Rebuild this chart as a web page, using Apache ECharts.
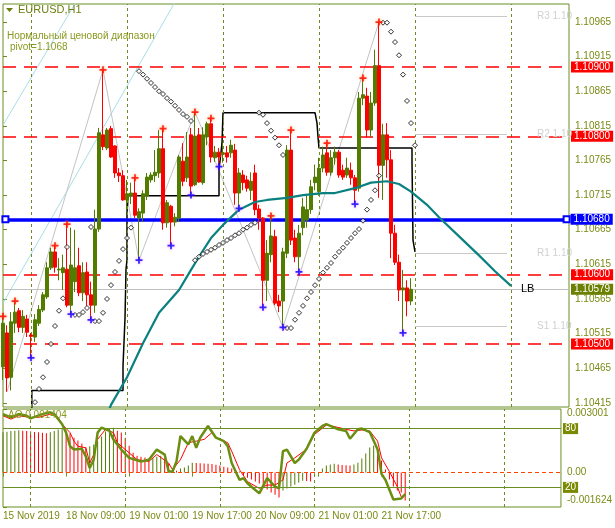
<!DOCTYPE html>
<html><head><meta charset="utf-8">
<script src="https://cdn.jsdelivr.net/npm/echarts@6/dist/echarts.min.js"></script>
<style>html,body{margin:0;padding:0;background:#fff}#c{width:615px;height:528px}</style>
</head><body><div id="c"></div>
<script>
// ---------- data ----------
const tickLabels = ['15 Nov 2019','18 Nov 09:00','19 Nov 01:00','19 Nov 17:00','20 Nov 09:00','21 Nov 01:00','21 Nov 17:00'];
const tickBars = [0,16,32,48,64,80,96];
const dayBreaks = [7,31,55,79,103,127];
const priceTicks = [1.10965,1.10915,1.10865,1.10815,1.10765,1.10715,1.10665,1.10615,1.10565,1.10515,1.10465,1.10415];

const opens = [1.10467,1.10516,1.10452,1.10530,1.10548,1.10524,1.10536,1.10513,1.10510,1.10530,
1.10549,1.10568,1.10610,1.10633,1.10607,1.10603,1.10608,1.10556,1.10590,1.10613,
1.10574,1.10604,1.10571,1.10556,1.10666,1.10802,1.10783,1.10811,1.10786,1.10747,
1.10743,1.10708,1.10714,1.10718,1.10682,1.10689,1.10714,1.10737,1.10743,1.10747,
1.10782,1.10675,1.10699,1.10676,1.10682,1.10764,1.10740,1.10802,1.10730,1.10802,
1.10733,1.10799,1.10818,1.10769,1.10777,1.10774,1.10776,1.10776,1.10780,1.10718,
1.10744,1.10737,1.10722,1.10747,1.10695,1.10682,1.10592,1.10629,1.10655,1.10562,
1.10562,1.10631,1.10780,1.10653,1.10626,1.10668,1.10679,1.10694,1.10733,1.10720,
1.10754,1.10776,1.10748,1.10769,1.10777,1.10751,1.10744,1.10751,1.10740,1.10725,
1.10855,1.10858,1.10809,1.10848,1.10902,1.10758,1.10802,1.10766,1.10660,1.10618,
1.10578,1.10581,1.10562];
const highs = [1.10540,1.10527,1.10546,1.10562,1.10552,1.10549,1.10542,1.10516,1.10543,1.10556,
1.10575,1.10618,1.10639,1.10642,1.10624,1.10629,1.10673,1.10668,1.10665,1.10639,
1.10618,1.10618,1.10590,1.10694,1.10812,1.10896,1.10812,1.10815,1.10787,1.10754,
1.10751,1.10737,1.10733,1.10740,1.10696,1.10722,1.10747,1.10748,1.10780,1.10809,
1.10811,1.10708,1.10701,1.10689,1.10773,1.10790,1.10806,1.10812,1.10835,1.10812,
1.10813,1.10821,1.10826,1.10786,1.10783,1.10790,1.10786,1.10795,1.10789,1.10754,
1.10751,1.10743,1.10748,1.10759,1.10701,1.10683,1.10650,1.10685,1.10665,1.10571,
1.10639,1.10787,1.10809,1.10665,1.10672,1.10711,1.10715,1.10737,1.10759,1.10769,
1.10785,1.10790,1.10780,1.10785,1.10780,1.10759,1.10769,1.10762,1.10744,1.10864,
1.10884,1.10870,1.10864,1.10925,1.10965,1.10818,1.10819,1.10780,1.10672,1.10629,
1.10607,1.10592,1.10595];
const lows = [1.10448,1.10431,1.10433,1.10516,1.10517,1.10516,1.10510,1.10480,1.10503,1.10526,
1.10546,1.10565,1.10607,1.10603,1.10592,1.10578,1.10553,1.10543,1.10575,1.10569,
1.10562,1.10555,1.10535,1.10545,1.10662,1.10780,1.10780,1.10769,1.10740,1.10734,
1.10707,1.10694,1.10702,1.10682,1.10621,1.10676,1.10708,1.10733,1.10734,1.10740,
1.10665,1.10668,1.10642,1.10670,1.10676,1.10728,1.10734,1.10715,1.10728,1.10733,
1.10730,1.10787,1.10762,1.10763,1.10756,1.10762,1.10762,1.10769,1.10701,1.10696,
1.10722,1.10720,1.10708,1.10686,1.10665,1.10553,1.10562,1.10618,1.10556,1.10546,
1.10524,1.10624,1.10643,1.10618,1.10604,1.10657,1.10668,1.10688,1.10722,1.10714,
1.10748,1.10743,1.10743,1.10759,1.10740,1.10737,1.10740,1.10730,1.10702,1.10720,
1.10845,1.10798,1.10799,1.10844,1.10711,1.10708,1.10740,1.10624,1.10614,1.10562,
1.10516,1.10540,1.10556];
const closes = [1.10530,1.10451,1.10532,1.10546,1.10524,1.10540,1.10517,1.10511,1.10535,1.10550,
1.10571,1.10610,1.10633,1.10611,1.10608,1.10610,1.10556,1.10614,1.10610,1.10574,
1.10603,1.10571,1.10556,1.10666,1.10805,1.10785,1.10809,1.10770,1.10747,1.10743,
1.10708,1.10717,1.10718,1.10686,1.10691,1.10717,1.10741,1.10744,1.10748,1.10782,
1.10675,1.10704,1.10676,1.10683,1.10770,1.10735,1.10770,1.10728,1.10800,1.10734,
1.10802,1.10818,1.10770,1.10777,1.10770,1.10776,1.10770,1.10787,1.10718,1.10747,
1.10733,1.10725,1.10735,1.10694,1.10682,1.10592,1.10631,1.10656,1.10559,1.10555,
1.10633,1.10780,1.10650,1.10626,1.10660,1.10698,1.10694,1.10727,1.10741,1.10754,
1.10773,1.10748,1.10769,1.10777,1.10744,1.10741,1.10754,1.10740,1.10722,1.10855,
1.10860,1.10809,1.10848,1.10902,1.10758,1.10802,1.10766,1.10660,1.10618,1.10578,
1.10581,1.10562,1.10579];

const fractalHighBars = [0,3,13,16,25,33,40,48,52,67,72,81,90,94];
const fractalLowBars = [7,17,22,34,42,47,54,59,65,70,74,88,100];

const zigzagBars = [1,25,34,48,70,94];
const zigzagPrices = [1.10431,1.10896,1.10621,1.10835,1.10524,1.10965];

const channelA = [[0,1.10816],[20,1.11011]];
const channelB = [[0,1.10559],[45,1.11014]];

const sarBars = [8,9,10,11,12,13,14,15,16,18,19,20,21,22,23,24,25,26,27,28,29,30,31,32,
34,35,36,37,38,39,40,41,42,43,44,45,46,47,48,49,50,51,52,53,54,55,56,57,58,59,60,61,62,63,
64,65,66,67,68,69,70,71,72,73,74,75,76,77,78,79,80,81,82,83,84,85,86,87,88,89,90,91,92,93,94,
95,96,97,98,99,100,101,102,103];
const sarValues = [1.10416,1.10435,1.10452,1.10474,1.10500,1.10526,1.10548,1.10566,1.10640,1.10542,1.10542,1.10546,1.10552,1.10669,1.10533,1.10533,1.10545,1.10565,1.10585,1.10604,1.10620,1.10637,1.10653,1.10668,
1.10894,1.10889,1.10883,1.10877,1.10871,1.10865,1.10861,1.10855,1.10850,1.10844,1.10838,1.10832,1.10828,1.10822,1.10621,1.10626,1.10630,1.10633,1.10636,1.10639,1.10643,1.10646,1.10650,1.10653,1.10657,1.10660,1.10665,1.10668,1.10672,1.10675,
1.10834,1.10831,1.10819,1.10808,1.10798,1.10787,1.10773,1.10523,1.10523,1.10535,1.10545,1.10555,1.10566,1.10575,1.10585,1.10594,1.10603,1.10610,1.10617,1.10626,1.10633,1.10639,1.10646,1.10653,1.10660,1.10666,1.10678,1.10694,1.10708,1.10722,1.10743,
1.10964,1.10964,1.10951,1.10936,1.10917,1.10889,1.10851,1.10819,1.10787];

const stepLine = [[7.2,1.10390],[7.2,1.10433],[30,1.10433],[30,1.10468],[30.5,1.10468],[30.5,1.10537],[30.75,1.10537],[30.75,1.10608],[31,1.10621],[31,1.10691],[31.25,1.10714],
[54,1.10714],[54,1.10751],[54.75,1.10790],[55,1.10834],[78,1.10834],[78.5,1.10819],[78.75,1.10799],[79,1.10783],[102.25,1.10783],[102.25,1.10763],[102.5,1.10650],[103,1.10650],[103,1.10633]];

const maLine = [[26,1.10397],[27,1.10412],[31,1.10452],[35,1.10501],[39,1.10545],[44,1.10578],[47,1.10607],[49,1.10626],[52,1.10653],[55,1.10672],[59,1.10694],[63,1.10705],[66,1.10708],[71,1.10711],[75,1.10715],[80,1.10718],[83,1.10718],[88,1.10725],[92,1.10733],[96,1.10735],[99,1.10731],[102,1.10720],[106,1.10701],[109,1.10683],[115,1.10650],[119,1.10628],[123,1.10605],[127,1.10584]];

const redLevels = [1.10900,1.10800,1.10600,1.10500];
const pivotLevel = 1.10680;
const lastPrice = 1.10579;
const pivotNames = ['R3','R2','R1','S1'];
const pivotValues = [1.10974,1.10803,1.10631,1.10526];
const pivotSpan = [103,126];

const aoValues = [0.00190,0.00193,0.00196,0.00198,0.00200,0.00198,0.00196,0.00194,0.00192,0.00190,
0.00188,0.00186,0.00190,0.00196,0.00203,0.00207,0.00198,0.00184,0.00165,0.00151,
0.00137,0.00120,0.00124,0.00132,0.00146,0.00170,0.00194,0.00208,0.00212,0.00198,
0.00189,0.00165,0.00127,0.00094,0.00080,0.00075,0.00071,0.00066,0.00068,0.00075,
0.00080,0.00066,0.00042,0.00019,0.00009,0.00019,0.00024,0.00033,0.00047,0.00045,
0.00044,0.00043,0.00042,0.00040,0.00037,0.00033,0.00028,0.00024,0.00019,0.00012,
0.00005,-0.00014,-0.00024,-0.00033,-0.00042,-0.00052,-0.00066,-0.00080,-0.00094,-0.00104,
-0.00118,-0.00085,-0.00075,-0.00066,-0.00057,-0.00047,-0.00038,-0.00040,-0.00042,-0.00005,
0.00003,0.00019,0.00033,0.00038,0.00042,0.00038,0.00036,0.00035,0.00033,0.00038,
0.00047,0.00066,0.00090,0.00118,0.00127,0.00104,0.00057,0.00014,-0.00033,-0.00066,
-0.00085,-0.00094,-0.00132];
const aoMax = 0.003001, aoMin = -0.001624;

const stochMain = [[0,94.8],[2,91.4],[4,94.8],[6,93.1],[7,90.4],[10,94.8],[12,96.6],[13,94.8],[15,84.5],[16,75.9],[17,62.0],[18,58.6],[20,59.4],[21,51.7],[22,39.7],[23,48.3],[24,75.9],[25,81.1],[27,77.6],[28,69.0],[30,58.6],[32,50.1],[35,46.5],[37,48.3],[39,58.6],[41,53.5],[42,36.2],[43,36.2],[44,46.5],[45,72.4],[47,63.8],[48,72.4],[49,60.4],[50,70.7],[52,82.7],[54,70.7],[56,67.2],[57,62.0],[58,44.9],[60,27.6],[61,29.4],[62,24.2],[64,17.3],[65,13.9],[67,29.4],[69,20.7],[70,19.0],[71,56.9],[72,58.6],[74,44.9],[75,48.3],[77,59.4],[79,75.9],[81,82.7],[82,84.5],[85,79.3],[87,77.6],[88,69.7],[90,79.3],[91,80.0],[93,76.5],[95,58.6],[96,33.8],[97,27.6],[99,7.7],[101,8.7],[102,13.1]];
const stochSignal = [[0,93.1],[2,89.7],[4,93.1],[7,91.4],[9,91.4],[12,94.8],[14,91.4],[15,84.5],[17,75.9],[18,67.2],[19,62.0],[21,60.4],[22,44.9],[23,53.5],[24,69.0],[26,79.3],[28,75.9],[29,65.6],[32,55.2],[34,48.3],[37,46.5],[39,53.5],[42,44.9],[43,38.0],[45,48.3],[47,65.6],[49,67.2],[51,69.0],[53,75.9],[54,70.7],[57,65.6],[58,56.9],[60,38.0],[62,25.9],[65,19.0],[67,22.4],[69,22.4],[71,27.6],[72,44.9],[74,50.1],[77,59.0],[79,74.1],[82,83.5],[84,82.1],[87,79.3],[89,77.6],[91,78.6],[93,77.6],[95,67.2],[96,50.1],[98,36.2],[100,20.7],[101,10.3],[102,12.1]];
const stochLevels = [80,20];

// ---------- styles ----------
const OLIVE = '#6b8e23', TXT = '#7a8a14', BULL = '#517c00', BEAR = '#ff0000';
const FONT = 'Liberation Sans';
const xMax = 141.5;

const candleData = opens.map((o,i)=>[i,o,closes[i],lows[i],highs[i]]);
const aoData = aoValues.map((v,i)=>({value:[i,v], itemStyle:{color:(i===0||v>=aoValues[i-1])?BULL:BEAR}}));
const plusPath = 'path://M3,0H5V3H8V5H5V8H3V5H0V3H3Z';
const hSeg = v => [{coord:[0,v]},{coord:[xMax,v]}];
const priceBox = bg => ({position:'end', distance:2, formatter:p=>Number(p.value).toFixed(5), color:'#fff', backgroundColor:bg, padding:[1,3,0,3], fontSize:10, fontFamily:FONT});

const chart = echarts.init(document.getElementById('c'), null, {renderer:'canvas'});
chart.setOption({
  animation:false,
  backgroundColor:'#ffffff',
  textStyle:{fontFamily:FONT},
  grid:[
    {left:3, top:4, width:566, height:403, show:true, borderColor:OLIVE, borderWidth:1, backgroundColor:'#fff'},
    {left:3, top:409, width:566, height:98, show:true, borderColor:OLIVE, borderWidth:1, backgroundColor:'#fff'}
  ],
  xAxis:[
    {type:'value', gridIndex:0, min:0, max:xMax, axisLine:{show:false}, axisTick:{show:false}, axisLabel:{show:false}, splitLine:{show:false}},
    {type:'value', gridIndex:1, min:0, max:xMax, axisLine:{show:false}, splitLine:{show:false},
      axisTick:{show:true, customValues:tickBars, length:4, lineStyle:{color:OLIVE}},
      axisLabel:{customValues:tickBars, align:'left', margin:4, color:TXT, fontSize:10, fontFamily:FONT,
        formatter:v=>{const k=tickBars.indexOf(Math.round(v)); return k>=0?tickLabels[k]:'';}}}
  ],
  yAxis:[
    {type:'value', gridIndex:0, position:'right', min:1.10409, max:1.10991, axisLine:{show:false}, splitLine:{show:false},
      axisTick:{show:true, customValues:priceTicks, length:4, lineStyle:{color:OLIVE}},
      axisLabel:{customValues:priceTicks, margin:6, color:TXT, fontSize:10, fontFamily:FONT, formatter:v=>v.toFixed(5)}},
    {type:'value', gridIndex:1, position:'right', min:aoMin, max:aoMax, axisLine:{show:false}, splitLine:{show:false},
      axisTick:{show:true, customValues:[aoMax,0,aoMin], length:4, lineStyle:{color:OLIVE}},
      axisLabel:{customValues:[aoMax,0,aoMin], margin:6, color:TXT, fontSize:10, fontFamily:FONT,
        formatter:v=>{
          if (Math.abs(v)<1e-9) return '0.00';
          return v>0 ? '{top|'+v.toFixed(6)+'}' : '{bot|'+v.toFixed(6)+'}';
        },
        rich:{top:{padding:[9,0,0,0], color:TXT, fontSize:10, fontFamily:FONT}, bot:{padding:[0,0,14,0], color:TXT, fontSize:10, fontFamily:FONT}}}},
    {type:'value', gridIndex:1, min:0, max:100, show:false}
  ],
  graphic:[
    {type:'polygon', shape:{points:[[6,8],[13,8],[9.5,12]]}, style:{fill:'#6b7f10'}, z:100},
    {type:'text', x:18, y:10, style:{text:'EURUSD,H1', fill:'#6b7f10', fontSize:11, fontFamily:FONT, verticalAlign:'middle'}, z:100},
    {type:'text', x:7, y:36, style:{text:'Нормальный ценовой диапазон', fill:'#8a9a20', fontSize:10, fontFamily:FONT, verticalAlign:'middle'}, z:100},
    {type:'text', x:10, y:47, style:{text:'pivot=1.1068', fill:'#8a9a20', fontSize:10, fontFamily:FONT, verticalAlign:'middle'}, z:100},
    {type:'text', x:8, y:415, style:{text:'AO 0.001404', fill:'#8a9a20', fontSize:10, fontFamily:FONT, verticalAlign:'middle'}, z:100}
  ],
  series:[
    {type:'line', xAxisIndex:0, yAxisIndex:0, data:[], z:1,
      markLine:{silent:true, symbol:'none', label:{show:false}, lineStyle:{color:OLIVE, type:[3,3], width:1},
        data:dayBreaks.map(b=>({xAxis:b}))}},
    {type:'line', xAxisIndex:1, yAxisIndex:1, data:[], z:1,
      markLine:{silent:true, symbol:'none', label:{show:false}, lineStyle:{color:OLIVE, type:[3,3], width:1},
        data:dayBreaks.map(b=>({xAxis:b}))}},
    // red levels
    {type:'line', xAxisIndex:0, yAxisIndex:0, data:[], z:2,
      markLine:{silent:true, symbol:'none', lineStyle:{color:'#ff0000', type:[13,8], width:1.5},
        label:priceBox('#ff0000'),
        data:redLevels.map(v=>[{coord:[0,v], value:v},{coord:[xMax,v]}])}},
    // last price line
    {type:'line', xAxisIndex:0, yAxisIndex:0, data:[], z:2,
      markLine:{silent:true, symbol:'none', lineStyle:{color:'#c0c0c0', type:'solid', width:1},
        label:priceBox('#6b8000'),
        data:[[{coord:[0,lastPrice], value:lastPrice},{coord:[xMax,lastPrice]}]]}},
    // pivot short lines
    {type:'line', xAxisIndex:0, yAxisIndex:0, data:[], z:2,
      markLine:{silent:true, symbol:'none', lineStyle:{color:'#c8c8c8', type:'solid', width:1},
        label:{position:'end', distance:30, color:'#d0d0d0', fontSize:10, fontFamily:FONT, padding:[12,0,0,0], formatter:p=>p.name+' 1.10'},
        data:pivotNames.map((n,k)=>[{name:n, coord:[pivotSpan[0],pivotValues[k]]},{coord:[pivotSpan[1],pivotValues[k]]}])}},
    // channel lines
    {type:'line', xAxisIndex:0, yAxisIndex:0, data:channelA, symbol:'none', lineStyle:{color:'#a8dde6', width:1}, z:3},
    {type:'line', xAxisIndex:0, yAxisIndex:0, data:channelB, symbol:'none', lineStyle:{color:'#a8dde6', width:1}, z:3},
    // zigzag
    {type:'line', xAxisIndex:0, yAxisIndex:0, data:zigzagBars.map((b,k)=>[b,zigzagPrices[k]]), symbol:'none', lineStyle:{color:'#c4c4c4', width:1}, z:3},
    // step line
    {type:'line', xAxisIndex:0, yAxisIndex:0, data:stepLine, symbol:'none', lineStyle:{color:'#000', width:1.5}, z:4},
    // candles
    {type:'candlestick', xAxisIndex:0, yAxisIndex:0, data:candleData, encode:{x:0, y:[1,2,3,4]}, barWidth:3, z:5,
      itemStyle:{color:BULL, color0:BEAR, borderColor:BULL, borderColor0:BEAR, borderWidth:1}},
    // MA
    {type:'line', xAxisIndex:0, yAxisIndex:0, data:maLine, symbol:'none', lineStyle:{color:'#0a8080', width:2.2}, z:6,
      endLabel:{show:true, formatter:'LB', color:'#000', fontSize:11, fontFamily:FONT, offset:[2,3]}},
    // pivot blue line
    {type:'line', xAxisIndex:0, yAxisIndex:0, data:[], z:7,
      markLine:{silent:true, symbol:['emptyRect','emptyRect'], symbolSize:6, lineStyle:{color:'#0000ff', type:'solid', width:3.5},
        label:{position:'end', distance:4, formatter:()=>pivotLevel.toFixed(5), color:'#fff', backgroundColor:'#0000ff', padding:[1,3,0,3], fontSize:10, fontFamily:FONT},
        data:[[{coord:[0.6,pivotLevel]},{coord:[140.9,pivotLevel]}]]}},
    // SAR
    {type:'scatter', xAxisIndex:0, yAxisIndex:0, data:sarBars.map((b,k)=>[b,sarValues[k]]), symbol:'diamond', symbolSize:5,
      itemStyle:{color:'#fff', borderColor:'#000', borderWidth:1}, z:8},
    // fractals
    {type:'scatter', xAxisIndex:0, yAxisIndex:0, data:fractalHighBars.map(b=>[b,highs[b]]), symbol:plusPath, symbolSize:7,
      itemStyle:{color:'#ff0000', shadowBlur:3, shadowColor:'#ffa040'}, z:9},
    {type:'scatter', xAxisIndex:0, yAxisIndex:0, data:fractalLowBars.map(b=>[b,lows[b]]), symbol:plusPath, symbolSize:7,
      itemStyle:{color:'#0000ff', shadowBlur:3, shadowColor:'#ff80ff'}, z:9},
    // AO histogram
    {type:'bar', xAxisIndex:1, yAxisIndex:1, data:aoData, barWidth:1, z:3,
      markLine:{silent:true, symbol:'none', label:{show:false}, lineStyle:{color:'#ff4500', type:[4,3], width:1}, data:[{yAxis:0}]}},
    // stochastic
    {type:'line', xAxisIndex:1, yAxisIndex:2, data:stochSignal, symbol:'none', lineStyle:{color:'#ff0000', width:1}, z:4},
    {type:'line', xAxisIndex:1, yAxisIndex:2, data:stochMain, symbol:'none', lineStyle:{color:'#6a8f10', width:2.5}, z:5,
      markLine:{silent:true, symbol:'none', lineStyle:{color:OLIVE, type:'solid', width:1},
        label:{position:'end', distance:2, formatter:p=>String(p.value), color:'#fff', backgroundColor:'#7a8a00', padding:[1,2,0,2], fontSize:10, fontFamily:FONT},
        data:stochLevels.map(v=>({yAxis:v}))}}
  ]
});
</script>
</body></html>
